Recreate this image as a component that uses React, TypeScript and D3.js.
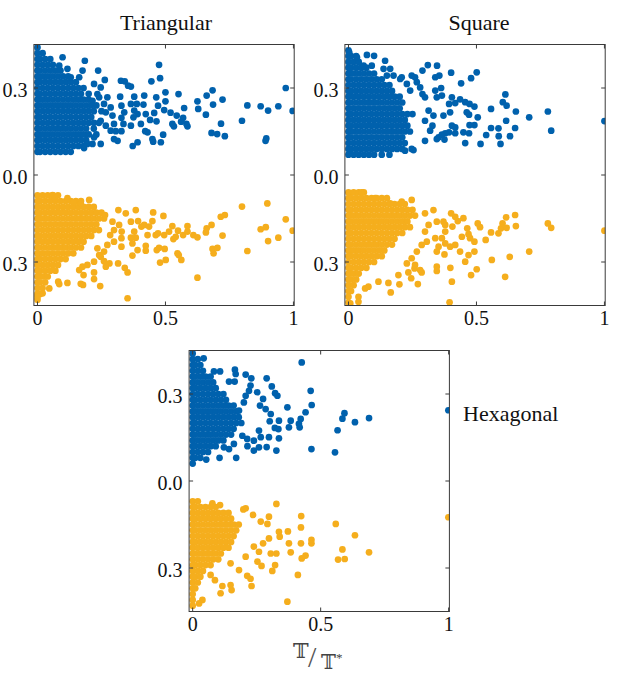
import * as React from 'react';
import * as d3 from 'd3';

const BLUE = '#0061ad';
const ORANGE = '#f5ae1d';

const xTicks = [0, 0.5, 1];
const xTickLabels = ['0', '0.5', '1'];
const yTicks = [0.3, 0, -0.3];
const yTickLabels = ['0.3', '0.0', '0.3'];

// dense cores, one row per string: "y:x x x ..." in hundredths
const triBlueCore = [
  '44:0', '42:0 2', '40:0 1 3 5', '38:0 2 4 6', '36:0 1 3 5 7 9', '34:0 2 4 6 8 10 12',
  '32:0 1 3 5 7 9 11 13 15', '30:0 2 4 6 8 10 12 14 16 18', '28:0 1 3 5 7 9 11 13 15 17 20',
  '26:0 2 4 6 8 10 12 14 16 18 20', '24:0 1 3 5 7 9 11 13 15 17 19 21 23',
  '22:0 2 4 6 8 10 12 14 16 18 20 22 25', '20:0 1 3 5 7 9 11 13 15 17 19 21',
  '18:0 2 4 6 8 10 12 14 16 18 20 22 24', '16:0 1 3 5 7 9 11 13 15 17 19 22',
  '14:0 2 4 6 8 10 12 14 16 18 20 23', '12:0 1 3 5 7 9 11 13 15 17 19',
  '10:0 2 4 6 8 10 12 14 16 18', '8:0 1 3 5 7 9 11 13',
];
const triOrangeCore = [
  '-7:0 2 4 6 8', '-9:0 1 3 5 7 9 11 13 15 17', '-11:0 2 4 6 8 10 12 14 16 18 20 22',
  '-13:0 1 3 5 7 9 11 13 15 17 19 21 23 25', '-15:0 2 4 6 8 10 12 14 16 18 20 22 24 26',
  '-17:0 1 3 5 7 9 11 13 15 17 19 21 23', '-19:0 2 4 6 8 10 12 14 16 18 20 22 24',
  '-21:0 1 3 5 7 9 11 13 15 17 19 21', '-23:0 2 4 6 8 10 12 14 16 18',
  '-25:0 1 3 5 7 9 11 13 15 17', '-27:0 2 4 6 8 10 12 14', '-29:0 1 3 5 7 9 11',
  '-31:0 2 4 6 8', '-33:0 1 3 5 7', '-35:0 2 4', '-37:0 1 3', '-39:0 2', '-41:0 1', '-43:0',
];
const sqBlueCore = [
  '43:0', '41:0 1 3', '39:0 2 4', '37:0 1 3 5 7', '35:0 2 4 6 8 10', '33:0 1 3 5 7 9 11 13',
  '31:0 2 4 6 8 10 12 14 16', '29:0 1 3 5 7 9 11 13 15 17', '27:0 2 4 6 8 10 12 14 16 18 20',
  '25:0 1 3 5 7 9 11 13 15 17 19 21', '23:0 2 4 6 8 10 12 14 16 18 20',
  '21:0 1 3 5 7 9 11 13 15 17 19 21 23 25', '19:0 2 4 6 8 10 12 14 16 18 20 22',
  '17:0 1 3 5 7 9 11 13 15 17 19 21 23', '15:0 2 4 6 8 10 12 14 16 18 20 22 24',
  '13:0 1 3 5 7 9 11 13 15 17 19 21', '11:0 2 4 6 8 10 12 14 16 18 20 22',
  '9:0 1 3 5 7 9 11 13 15 17 19 21', '7:0 2 4 6 8 10 13 16',
];
const sqOrangeCore = [
  '-6:0 2 4 6', '-8:0 1 3 5 7 9 11 13 15', '-10:0 2 4 6 8 10 12 14 16 18 20 22',
  '-12:0 1 3 5 7 9 11 13 15 17 19 21 23 25', '-14:0 2 4 6 8 10 12 14 16 18 20 22 24 26',
  '-16:0 1 3 5 7 9 11 13 15 17 19 21 23', '-18:0 2 4 6 8 10 12 14 16 18 20 22 24',
  '-20:0 1 3 5 7 9 11 13 15 17 19 21', '-22:0 2 4 6 8 10 12 14 16 18',
  '-24:0 1 3 5 7 9 11 13 15 17', '-26:0 2 4 6 8 10 12 14', '-28:0 1 3 5 7 9 11 13',
  '-30:0 2 4 6 8 10', '-32:0 1 3 5 7', '-34:0 2 4', '-36:0 1 3', '-38:0 2', '-40:0 1', '-42:0', '-44:0',
];
const hexBlueCore = [
  '44:0', '42:0 2', '40:0 1 3', '38:0 2 4', '36:0 1 3 5 7', '34:0 2 4 6 8', '32:0 1 3 5 7 9',
  '30:0 2 4 6 8 10 12', '28:0 1 3 5 7 9 11 13', '26:0 2 4 6 8 10 12 14 16',
  '24:0 1 3 5 7 9 11 13 15 17', '22:0 2 4 6 8 10 12 14 16 18', '20:0 1 3 5 7 9 11 13 15 17 19',
  '18:0 2 4 6 8 10 12 14 16', '16:0 1 3 5 7 9 11 13 15', '14:0 2 4 6 8 10 12',
  '12:0 1 3 5 7 9', '10:0 2 4 6', '8:0 1 3', '6:0',
];
const hexOrangeCore = [
  '-7:0 2', '-9:0 1 3 5 7 9', '-11:0 2 4 6 8 10 12 14', '-13:0 1 3 5 7 9 11 13 15',
  '-15:0 2 4 6 8 10 12 14 16 18', '-17:0 1 3 5 7 9 11 13 15 17', '-19:0 2 4 6 8 10 12 14 16',
  '-21:0 1 3 5 7 9 11 13 15', '-23:0 2 4 6 8 10 12 14', '-25:0 1 3 5 7 9 11', '-27:0 2 4 6 8 10',
  '-29:0 1 3 5 7', '-31:0 2 4', '-33:0 1 3', '-35:0 2', '-37:0 1', '-39:0', '-41:0', '-43:0',
];

// scattered points "x,y" in thousandths
const triBlueOut = '970,300 997,221 941,237 901,222 872,237 820,240 799,187 894,126 891,118 723,260 732,134 702,141 680,145 717,177 684,292 661,274 686,243 658,208 625,254 628,228 586,168 582,176 573,231 569,197 551,279 561,184 533,168 527,176 544,205 520,215 500,254 500,285 495,224 479,334 475,380 491,139 482,113 452,115 449,124 465,185 456,214 471,239 464,268 445,323 417,274 414,243 423,210 440,190 430,147 421,151 378,270 388,245 365,245 378,222 391,210 375,199 365,170 404,176 391,113 372,100 326,325 341,323 354,308 365,305 323,270 328,239 339,216 328,197 336,176 328,151 313,118 299,124 263,328 237,360 185,394 176,360 163,337 221,314 247,302 241,268 273,268 260,245 286,233 267,216 293,205 299,176 286,153 306,151 215,107 182,93 247,107 98,406 85,377 117,366 130,337 234,279 215,256 247,187 267,170 221,130 195,107';
const triOrangeOut = '352,-425 625,-354 245,-383 221,-359 169,-375 178,-379 117,-372 85,-376 81,-368 221,-336 180,-345 352,-336 341,-320 315,-305 281,-305 260,-297 267,-316 247,-282 479,-302 501,-293 562,-293 547,-270 552,-276 820,-262 684,-255 688,-270 703,-251 371,-278 391,-259 423,-261 423,-244 466,-259 475,-251 497,-255 430,-207 462,-207 471,-201 495,-207 514,-195 531,-221 540,-213 549,-192 569,-207 586,-195 586,-176 609,-207 625,-215 658,-198 661,-184 680,-172 723,-209 716,-144 732,-138 799,-109 898,-98 970,-153 997,-192 941,-216 901,-228 872,-187 892,-180 527,-176 492,-141 452,-129 449,-159 406,-178 417,-172 436,-178 384,-121 345,-132 316,-121 378,-195 384,-216 365,-216 371,-236 319,-172 329,-195 328,-218 328,-247 393,-159 365,-161 299,-190 284,-207 299,-230 273,-241 260,-264 234,-253 241,-276 221,-299 195,-310 176,-316 163,-328 59,-69 68,-80 117,-80 141,-94 169,-98 202,-86 264,-138 293,-161 46,-391 20,-408 0,-420';
const sqBlueOut = '1000,186 792,153 779,219 706,199 654,219 651,162 616,187 613,278 603,251 618,239 631,134 594,107 587,134 586,161 557,162 557,228 538,138 516,107 501,354 479,334 440,316 401,353 346,377 310,379 289,360 339,337 355,343 362,300 505,199 492,172 473,172 492,236 462,216 471,208 473,245 456,251 436,261 404,268 417,248 393,245 397,216 371,205 417,164 404,170 393,147 378,144 365,139 352,130 456,110 471,144 449,147 417,144 375,122 345,124 299,118 254,86 332,205 313,222 299,187 328,170 319,153 339,291 365,274 345,268 280,302 289,279 299,268 260,337 267,320 247,343 228,314 241,291 176,343 202,331 208,337 143,394 137,366 163,366 150,343 72,414 100,411 91,377 59,377 33,406 3,423 247,90 221,84';
const sqOrangeOut = '395,-439 404,-368 612,-351 501,-325 479,-345 398,-320 345,-331 345,-316 286,-336 280,-328 271,-376 245,-356 199,-377 165,-405 156,-372 117,-368 65,-391 78,-385 39,-420 39,-437 234,-336 258,-322 195,-345 560,-293 630,-282 706,-264 492,-264 469,-276 456,-299 436,-264 375,-274 345,-264 557,-198 586,-201 596,-184 536,-224 602,-167 616,-146 618,-182 651,-138 654,-176 779,-167 792,-182 1000,-192 514,-180 505,-167 492,-230 475,-218 469,-204 464,-184 443,-213 449,-149 417,-144 401,-132 427,-159 406,-178 417,-241 397,-247 378,-172 371,-161 365,-218 339,-218 352,-247 378,-236 332,-121 345,-161 378,-195 299,-132 313,-172 299,-195 286,-241 306,-230 267,-264 247,-287 260,-310 228,-305 52,-60 104,-80 163,-98 208,-92 247,-86 7,-443';
const hexBlueOut = '999,244 689,217 634,203 593,234 585,215 566,175 556,99 464,110 465,262 461,311 426,409 441,237 422,214 415,197 418,185 383,208 376,185 370,254 337,208 335,179 337,147 327,105 289,117 259,116 239,105 214,120 170,80 105,80 53,74 321,183 301,206 305,231 331,294 322,303 309,326 289,354 229,354 207,367 165,384 168,369 142,343 164,343 107,378 83,378 43,423 275,283 263,260 285,248 252,306 220,311 226,329 207,294 200,271 181,243 298,151 266,151 259,174 239,139 213,145 194,156 142,110 161,128 122,116';
const hexOrangeOut = '999,-125 689,-246 634,-187 585,-236 568,-271 594,-269 559,-148 464,-203 464,-215 441,-257 426,-267 423,-215 423,-160 424,-121 411,-324 370,-416 327,-79 372,-174 337,-175 340,-192 376,-215 383,-246 322,-290 311,-310 298,-198 298,-123 292,-148 327,-250 305,-250 269,-293 253,-278 226,-337 230,-362 213,-327 152,-376 148,-359 116,-362 109,-387 38,-410 25,-422 207,-94 198,-98 236,-117 266,-140 107,-83 77,-77 239,-226 275,-215 259,-244 207,-261 181,-307 148,-284 87,-342 70,-324';

type Pt = [number, number];

function parseCore(rows: string[]): Pt[] {
  const pts: Pt[] = [];
  rows.forEach(r => {
    const [y, xs] = r.split(':');
    xs.split(' ').forEach(x => pts.push([+x / 100, +y / 100]));
  });
  return pts;
}

function parseOut(s: string): Pt[] {
  return s.trim().split(/\s+/).map(p => {
    const [x, y] = p.split(',');
    return [+x / 1000, +y / 1000] as Pt;
  });
}

const panels = [
  { id: 'tri', left: 33.9, top: 44.5, blue: triBlueCore, blueOut: triBlueOut, orange: triOrangeCore, orangeOut: triOrangeOut },
  { id: 'sq', left: 344.9, top: 44.5, blue: sqBlueCore, blueOut: sqBlueOut, orange: sqOrangeCore, orangeOut: sqOrangeOut },
  { id: 'hex', left: 189.1, top: 350.5, blue: hexBlueCore, blueOut: hexBlueOut, orange: hexOrangeCore, orangeOut: hexOrangeOut },
];

const serif = 'Liberation Serif, Times New Roman, serif';
const axisColor = '#3a3a3a';
const R = 3.35;

function Panel(p: typeof panels[number]) {
  const w = 260.3, h = 261;
  const x = d3.scaleLinear().domain([-0.014, 1.003]).range([p.left, p.left + w]);
  const y = d3.scaleLinear().domain([-0.45, 0.45]).range([p.top + h, p.top]);
  const bottom = p.top + h, right = p.left + w;
  const blue = parseCore(p.blue).concat(parseOut(p.blueOut));
  const orange = parseCore(p.orange).concat(parseOut(p.orangeOut));
  const tl = 4;
  return (
    <g>
      <defs>
        <clipPath id={`clip-${p.id}`}>
          <rect x={p.left} y={p.top} width={w} height={h} />
        </clipPath>
      </defs>
      <g clipPath={`url(#clip-${p.id})`}>
        {blue.map((d, i) => <circle key={'b' + i} cx={x(d[0])} cy={y(d[1])} r={R} fill={BLUE} />)}
        {orange.map((d, i) => <circle key={'o' + i} cx={x(d[0])} cy={y(d[1])} r={R} fill={ORANGE} />)}
      </g>
      <rect x={p.left} y={p.top} width={w} height={h} fill="none" stroke={axisColor} strokeWidth={1} />
      {xTicks.map(t => (
        <g key={'xt' + t}>
          <line x1={x(t)} x2={x(t)} y1={p.top} y2={p.top + tl} stroke={axisColor} />
          <line x1={x(t)} x2={x(t)} y1={bottom} y2={bottom - tl} stroke={axisColor} />
        </g>
      ))}
      {yTicks.map(t => (
        <g key={'yt' + t}>
          <line x1={p.left} x2={p.left + tl} y1={y(t)} y2={y(t)} stroke={axisColor} />
          <line x1={right} x2={right - tl} y1={y(t)} y2={y(t)} stroke={axisColor} />
        </g>
      ))}
      {xTicks.map((t, i) => (
        <text key={'xl' + t} x={x(t)} y={bottom + 19} textAnchor="middle" fontFamily={serif} fontSize={20} fill="#111">
          {xTickLabels[i]}
        </text>
      ))}
      {yTicks.map((t, i) => (
        <text key={'yl' + t} x={p.left - 6.5} y={y(t)} dy="0.45em" textAnchor="end" fontFamily={serif} fontSize={20} fill="#111">
          {yTickLabels[i]}
        </text>
      ))}
    </g>
  );
}

export default function App() {
  const dbl = 'DejaVu Serif, DejaVu Sans, Noto Sans, serif';
  return (
    <div style={{ position: 'absolute', left: 0, top: 0 }}>
      <svg width={623} height={675} style={{ display: 'block', background: '#fff' }}>
        {panels.map(p => <Panel key={p.id} {...p} />)}
        <text x={166} y={30} textAnchor="middle" fontFamily={serif} fontSize={22} fill="#111">Triangular</text>
        <text x={479} y={30} textAnchor="middle" fontFamily={serif} fontSize={22} fill="#111">Square</text>
        <text x={463} y={421} fontFamily={serif} fontSize={22} fill="#111">Hexagonal</text>
        <g fill="#444">
          <text x={293} y={658} fontFamily={dbl} fontSize={21}>𝕋</text>
          <text x={308} y={667} fontFamily={serif} fontSize={30} fill="#555">/</text>
          <text x={321} y={669} fontFamily={dbl} fontSize={20}>𝕋</text>
          <text x={336} y={662} fontFamily={serif} fontSize={13}>*</text>
        </g>
      </svg>
    </div>
  );
}
